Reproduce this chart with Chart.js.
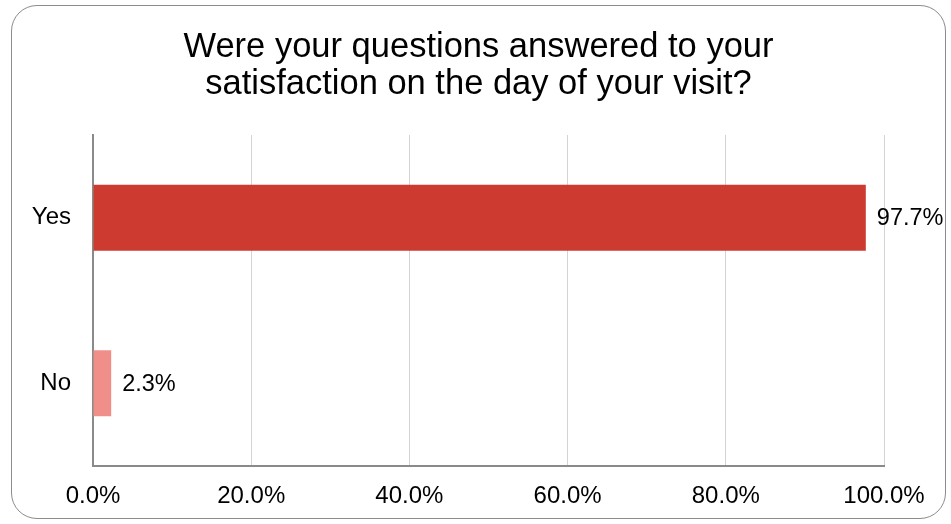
<!DOCTYPE html>
<html>
<head>
<meta charset="utf-8">
<script src="https://cdn.jsdelivr.net/npm/chart.js@4.4.0/dist/chart.umd.min.js"></script>
<style>
    html, body { margin: 0; padding: 0; background: #fff; }
    #box {
        position: absolute;
        left: 11px; top: 5px;
        width: 933px; height: 512px;
        border: 1px solid #8c8c8c;
        border-radius: 26px;
        overflow: hidden;
    }
    #chart { display: block; }
</style>
</head>
<body>
<div id="box"><canvas id="chart" width="933" height="512"></canvas></div>
<script>
const categories = ['Yes', 'No'];
const percentages = [97.7, 2.3];
const barColors = ['#CD3B30', '#F08E8A'];
const xTicks = [0, 20, 40, 60, 80, 100];
const titleLines = ['Were your questions answered to your', 'satisfaction on the day of your visit?'];

document.addEventListener('DOMContentLoaded', function() {
    const ctx = document.getElementById('chart').getContext('2d');
    const FONT = '"Liberation Sans", Arial, sans-serif';
    Chart.defaults.font.family = FONT;
    Chart.defaults.color = '#000';

    // title centred across the whole box, plus value labels at bar ends
    const extras = {
        id: 'extras',
        afterDatasetsDraw(chart) {
            const c = chart.ctx;
            c.save();
            c.fillStyle = '#000';
            c.textBaseline = 'middle';

            c.font = '34.5px ' + FONT;
            c.textAlign = 'center';
            titleLines.forEach(function(line, i) {
                c.fillText(line, chart.width / 2, 41 + i * 37);
            });

            c.font = '23.5px ' + FONT;
            c.textAlign = 'left';
            chart.getDatasetMeta(0).data.forEach(function(bar, i) {
                c.fillText(percentages[i].toFixed(1) + '%', bar.x + 11, bar.y + 1);
            });
            c.restore();
        }
    };

    new Chart(ctx, {
        type: 'bar',
        data: {
            labels: categories,
            datasets: [{
                data: percentages,
                backgroundColor: barColors,
                borderWidth: 0,
                barPercentage: 0.4,
                categoryPercentage: 1
            }]
        },
        options: {
            indexAxis: 'y',
            responsive: false,
            animation: false,
            layout: { padding: { left: 0, right: 61, top: 129, bottom: 0 } },
            plugins: {
                legend: { display: false },
                tooltip: { enabled: false },
                title: { display: false }
            },
            scales: {
                x: {
                    min: 0,
                    max: 100,
                    afterBuildTicks: function(scale) {
                        scale.ticks = xTicks.map(v => ({ value: v }));
                    },
                    afterFit: function(scale) { scale.height = 52; },
                    ticks: {
                        padding: 16,
                        font: { size: 24 },
                        maxRotation: 0,
                        callback: function(value) { return value.toFixed(1) + '%'; }
                    },
                    grid: { color: '#d4d4d4', lineWidth: 1, drawTicks: false },
                    border: { color: '#8a8a8a', width: 2 }
                },
                y: {
                    afterFit: function(scale) { scale.width = 81; },
                    ticks: { padding: 22, font: { size: 24 } },
                    grid: { display: false, drawTicks: false },
                    border: { color: '#8a8a8a', width: 2 }
                }
            }
        },
        plugins: [extras]
    });
});
</script>
</body>
</html>
